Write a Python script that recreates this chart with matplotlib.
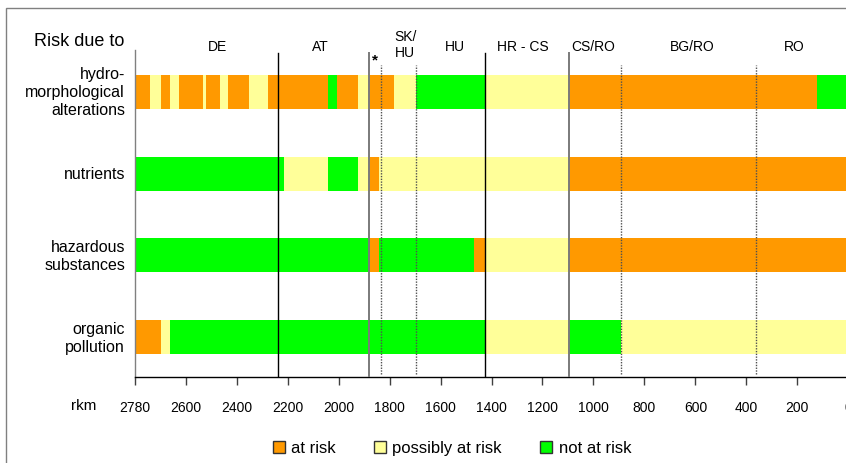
import matplotlib
matplotlib.use("Agg")
import matplotlib.pyplot as plt
from matplotlib import transforms
from matplotlib.patches import Patch, Rectangle

plt.rcParams['font.family'] = ['Liberation Sans', 'DejaVu Sans']

# ---------------- data ----------------
row_labels = ["hydro-\nmorphological\nalterations", "nutrients",
              "hazardous\nsubstances", "organic\npollution"]

status_names = {"A": "at risk", "P": "possibly at risk", "N": "not at risk"}
status_colors = {"A": "#FF9900", "P": "#FFFF99", "N": "#00FF00"}

# river-km breakpoints (upstream -> downstream) and risk status of each stretch
hydro_breaks = [2800, 2740, 2697, 2661, 2626, 2532, 2520, 2465, 2434, 2351,
                2277, 2041, 2005, 1924, 1882, 1782, 1696, 1424, 1096, 121, 0]
hydro_status = ["A", "P", "A", "P", "A", "P", "A", "P", "A", "P",
                "A", "N", "A", "P", "A", "P", "N", "P", "A", "N"]

nutr_breaks = [2800, 2214, 2041, 1924, 1882, 1840, 1096, 0]
nutr_status = ["N", "P", "N", "P", "A", "P", "A"]

haz_breaks = [2800, 1882, 1840, 1470, 1424, 1096, 0]
haz_status = ["N", "A", "N", "A", "P", "A"]

org_breaks = [2800, 2697, 2661, 1424, 1096, 893, 0]
org_status = ["A", "P", "N", "P", "N", "P"]

rows_breaks = [hydro_breaks, nutr_breaks, haz_breaks, org_breaks]
rows_status = [hydro_status, nutr_status, haz_status, org_status]

# country borders (solid) and sub-borders (dotted), river km
border_km = [2236, 1882, 1424, 1096]
border_dark = [True, False, True, False]
dotted_km = [1834, 1696, 892, 362]

region_labels = ["DE", "AT", "SK/\nHU", "HU", "HR - CS", "CS/RO", "BG/RO", "RO"]
region_km = [2476, 2073, 1739, 1543, 1276, 1002, 613, 213]
star_km = 1857

tick_km = [2800, 2600, 2400, 2200, 2000, 1800, 1600, 1400, 1200, 1000, 800, 600, 400, 200, 0]
tick_labels = ["2780", "2600", "2400", "2200", "2000", "1800", "1600", "1400",
               "1200", "1000", "800", "600", "400", "200", "0"]

# ---------------- figure ----------------
W, H = 846, 464
fig = plt.figure(figsize=(W / 100, H / 100), dpi=100)

ax_left, ax_right = 134.7, 848.3
ax_top, ax_bot = 50.7, 378.3
ax = fig.add_axes([ax_left / W, 1 - ax_bot / H, (ax_right - ax_left) / W, (ax_bot - ax_top) / H])

n = len(row_labels)
ypos = [n - 1 - i for i in range(n)]
bar_h = 0.416

for yi, brk, st in zip(ypos, rows_breaks, rows_status):
    for k, s in enumerate(st):
        a, b = brk[k], brk[k + 1]
        ax.barh(yi, a - b, left=b, height=bar_h, color=status_colors[s],
                edgecolor="none", linewidth=0, zorder=2)

ax.set_xlim(2800, 0)
ax.set_ylim(-0.493, 3.517)

for km, dark in zip(border_km, border_dark):
    ax.axvline(km, ymin=0, ymax=0.99, color="black" if dark else "#7a7a7a",
               lw=1.0 if dark else 1.4, zorder=3)
for km in dotted_km:
    ax.axvline(km, ymin=0.01, ymax=0.953, color="#505050", lw=1.0,
               linestyle=(0, (1, 1)), zorder=3)

for sp in ["top", "right"]:
    ax.spines[sp].set_visible(False)
ax.spines["left"].set_color("#808080")
ax.spines["left"].set_linewidth(1.0)
ax.spines["bottom"].set_color("black")
ax.spines["bottom"].set_linewidth(1.0)
ax.set_yticks([])
ax.set_xticks(tick_km)
ax.set_xticklabels(tick_labels, fontsize=10)
ax.tick_params(axis="x", direction="out", length=6, width=1, color="#404040", pad=10)

# row labels
tr_rows = transforms.blended_transform_factory(fig.transFigure, ax.transData)
for yi, lab in zip(ypos, row_labels):
    fig.text(125 / W, yi, lab, transform=tr_rows, ha="right", va="center",
             fontsize=11.5, linespacing=1.25)

fig.text(124 / W, 1 - 46 / H, "Risk due to", ha="right", va="baseline", fontsize=13)
fig.text(84 / W, 1 - 405.7 / H, "rkm", ha="center", va="center", fontsize=11)

# region labels
tr_reg = transforms.blended_transform_factory(ax.transData, fig.transFigure)
for km, lab in zip(region_km, region_labels):
    if "\n" in lab:
        ax.text(km, 1 - 56.7 / H, lab, transform=tr_reg, ha="center", va="baseline",
                fontsize=10, linespacing=1.15, clip_on=False)
    else:
        ax.text(km, 1 - 51 / H, lab, transform=tr_reg, ha="center", va="baseline",
                fontsize=10, clip_on=False)
ax.text(star_km, 1 - 64 / H, "*", transform=tr_reg, ha="center", va="baseline",
        fontsize=11, fontweight="bold", clip_on=False)

# figure frame
fig.patches.append(Rectangle((6 / W, -0.1), 2, (1 - 9 / H) + 0.1, transform=fig.transFigure,
                             fill=False, edgecolor="#808080", lw=1.0, clip_on=False))

# legend
handles = [Patch(facecolor=status_colors[k], edgecolor="#333333", lw=1.0) for k in ["A", "P", "N"]]
labels = [status_names[k] for k in ["A", "P", "N"]]
fig.legend(handles, labels, loc="center", bbox_to_anchor=(452 / W, 1 - 449 / H), ncol=3,
           frameon=False, fontsize=12, handlelength=0.7, handleheight=0.75,
           handletextpad=0.4, columnspacing=2.3, borderpad=0)

fig.savefig("out.png", dpi=100)
